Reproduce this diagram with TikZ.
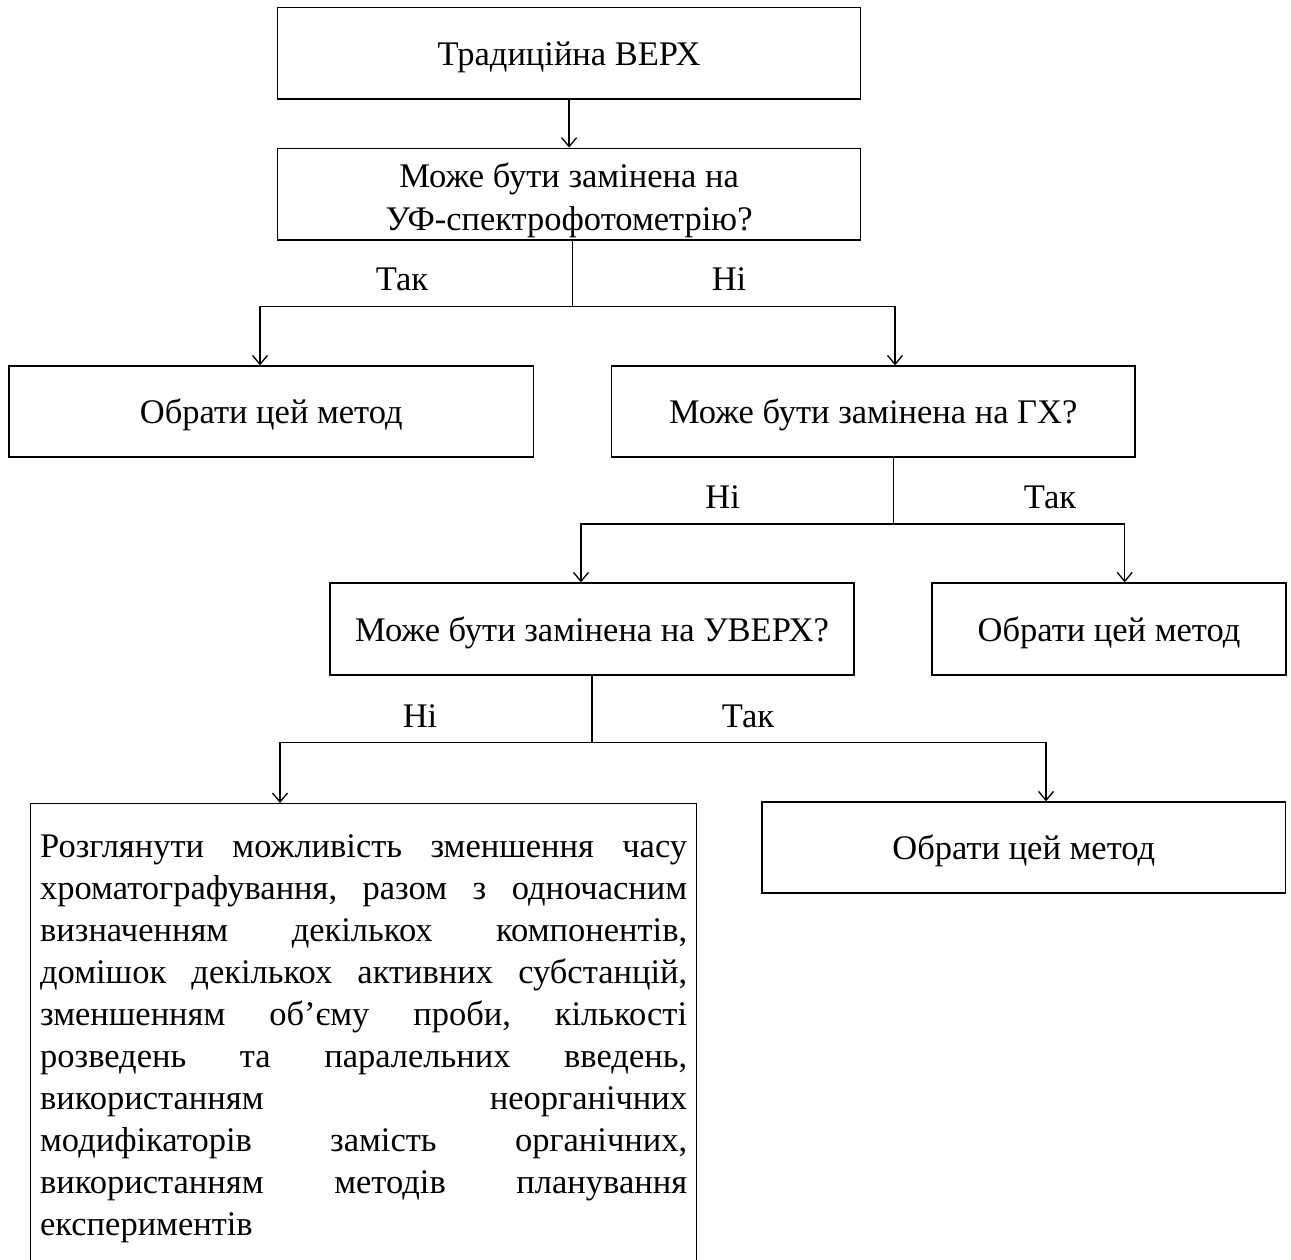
\documentclass[tikz,border=0pt]{standalone}
\usepackage{fontspec}
\setmainfont{Liberation Serif}
\usetikzlibrary{arrows.meta}
\newcommand{\fsz}{\fontsize{34.5pt}{43.5pt}\selectfont}
\newcommand{\bxline}[1]{\hbox to 647pt{\vrule height30pt depth12pt width0pt #1}}
\tikzset{
  boxnode/.style={draw, line width=1.3pt, inner xsep=0pt, inner ysep=0pt,
    text height=30pt, text depth=6pt, minimum height=91.7pt, font=\fsz},
  lbl/.style={inner sep=0pt, font=\fsz, anchor=base},
  conn/.style={line width=1.3pt},
  arr/.style={line width=1.3pt, -{Straight Barb[length=9pt,width=15pt,line width=1.3pt]}}
}
\begin{document}
\begin{tikzpicture}[x=1pt,y=-1pt]
\useasboundingbox (0,0) rectangle (1291,1259);
% boxes
\node[boxnode, minimum width=583.1pt] (b1) at (569.1,53.15) {Традиційна ВЕРХ};
\node[boxnode, minimum width=583.1pt, align=center, text height=82.2pt, text depth=9.5pt]
  (b2) at (569.1,194.15) {Може бути замінена на\\УФ-спектрофотометрію?};
\node[boxnode, minimum width=524.6pt, minimum height=91pt] (b3) at (271.3,411.5) {Обрати цей метод};
\node[boxnode, minimum width=523.5pt, minimum height=91pt] (b4) at (873.25,411.5) {Може бути замінена на ГХ?};
\node[boxnode, minimum width=524pt, minimum height=92pt] (b5) at (592,629) {Може бути замінена на УВЕРХ?};
\node[boxnode, minimum width=354pt, minimum height=92pt] (b6) at (1109,629) {Обрати цей метод};
\node[boxnode, minimum width=523.7pt, minimum height=91pt] (b8) at (1023.85,847.5) {Обрати цей метод};
\node[draw, line width=1.3pt, anchor=north west, inner xsep=9.5pt, inner ysep=0pt, font=\fsz]
  (b7) at (30,803) {\vbox to 470pt{\hsize=647pt\baselineskip=42pt\lineskiplimit=-100pt
    \kern24pt
    \bxline{Розглянути\hfill можливість\hfill зменшення\hfill часу}
    \bxline{хроматографування,\hfill разом\hfill з\hfill одночасним}
    \bxline{визначенням\hfill декількох\hfill компонентів,}
    \bxline{домішок\hfill декількох\hfill активних\hfill субстанцій,}
    \bxline{зменшенням\hfill об’єму\hfill проби,\hfill кількості}
    \bxline{розведень\hfill та\hfill паралельних\hfill введень,}
    \bxline{використанням\hfill неорганічних}
    \bxline{модифікаторів\hfill замість\hfill органічних,}
    \bxline{використанням\hfill методів\hfill планування}
    \bxline{експериментів\hfill}
    \vfill}};
% labels
\node[lbl] (l1a) at (402,290) {Так};
\node[lbl] (l1b) at (729,290) {Ні};
\node[lbl] (l2a) at (722.6,508) {Ні};
\node[lbl] (l2b) at (1050,508) {Так};
\node[lbl] (l3a) at (420,727) {Ні};
\node[lbl] (l3b) at (748,727) {Так};
% junctions
\coordinate (j1) at (572.6,306.7);
\coordinate (j1l) at (260,306.7);
\coordinate (j1r) at (895,306.7);
\coordinate (j2) at (893.6,524);
\coordinate (j2l) at (581,524);
\coordinate (j2r) at (1124.7,524);
\coordinate (j3) at (592,742.7);
\coordinate (j3l) at (280,742.7);
\coordinate (j3r) at (1046,742.7);
% connectors
\draw[arr] (b1.south) -- (b2.north);
\draw[conn] (b2.south -| j1) -- (j1);
\draw[arr] (j1) -- (j1l) -- (j1l |- b3.north);
\draw[arr] (j1) -- (j1r) -- (j1r |- b4.north);
\draw[conn] (b4.south -| j2) -- (j2);
\draw[arr] (j2) -- (j2l) -- (j2l |- b5.north);
\draw[arr] (j2) -- (j2r) -- (j2r |- b6.north);
\draw[conn] (b5.south -| j3) -- (j3);
\draw[arr] (j3) -- (j3l) -- (j3l |- b7.north);
\draw[arr] (j3) -- (j3r) -- (j3r |- b8.north);
\end{tikzpicture}
\end{document}
